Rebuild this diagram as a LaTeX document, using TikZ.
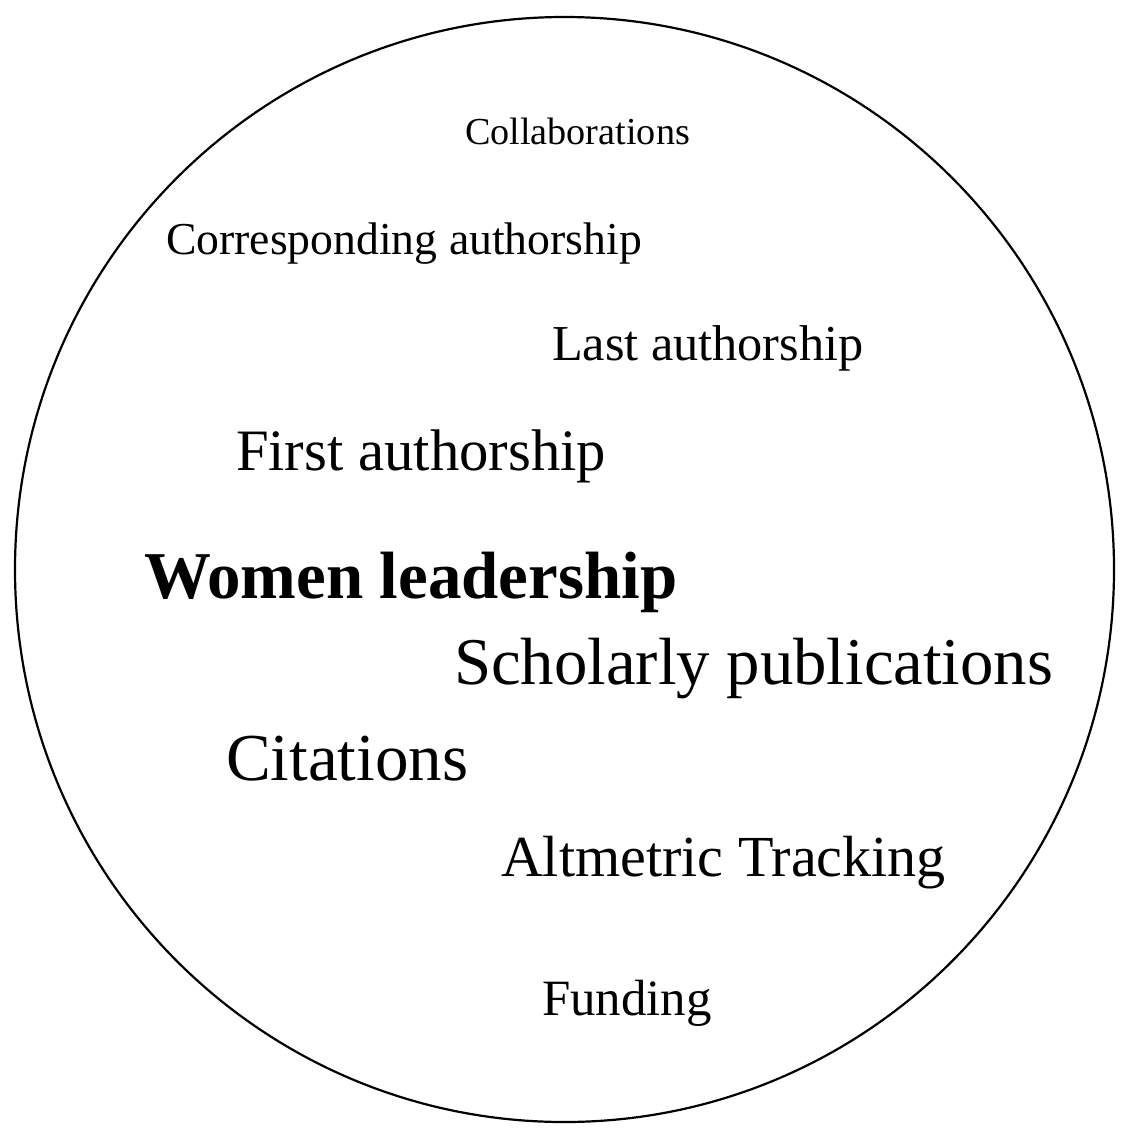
\documentclass[tikz,border=0pt]{standalone}
\usepackage{fontspec}
\setmainfont{Liberation Serif}
\begin{document}
\begin{tikzpicture}[x=0.5pt,y=-0.5pt,
  lbl/.style={anchor=base west,inner sep=0pt,outer sep=0pt}]
\useasboundingbox (0,0) rectangle (1134,1140);
\draw[line width=1.1pt] (564.5,569.5) ellipse [x radius=549.5, y radius=552.5];
\node[lbl,font=\fontsize{19.1}{22}\selectfont] (collab) at (465,144) {Collaborations};
\node[lbl,font=\fontsize{22.85}{26}\selectfont] (corr) at (166,254) {Corresponding authorship};
\node[lbl,font=\fontsize{25.15}{28}\selectfont] (last) at (552,360) {Last authorship};
\node[lbl,font=\fontsize{29.35}{33}\selectfont] (first) at (236,470) {First authorship};
\node[lbl,font=\fontsize{33.45}{38}\selectfont\bfseries] (women) at (144,598) {Women leadership};
\node[lbl,font=\fontsize{33.4}{38}\selectfont] (schol) at (454,684) {Scholarly publications};
\node[lbl,font=\fontsize{33.55}{38}\selectfont] (cit) at (226,780) {Citations};
\node[lbl,font=\fontsize{29.05}{33}\selectfont] (alt) at (501,876) {Altmetric Tracking};
\node[lbl,font=\fontsize{25.45}{29}\selectfont] (fund) at (542,1015) {Funding};
\end{tikzpicture}
\end{document}
